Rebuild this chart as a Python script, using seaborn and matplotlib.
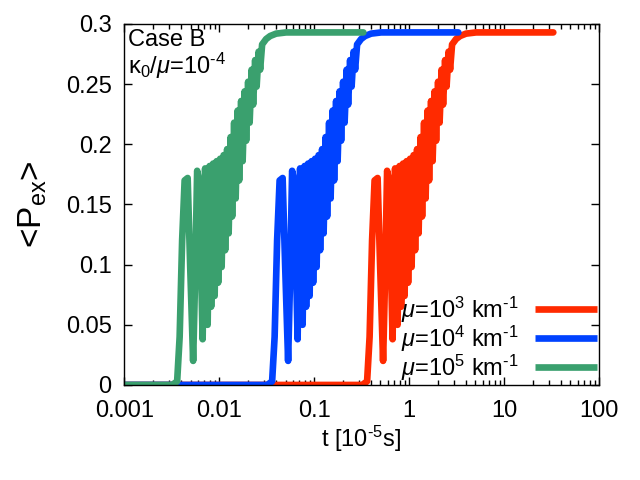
import numpy as np
import pandas as pd
import seaborn as sns
import matplotlib
matplotlib.use("Agg")
import matplotlib.pyplot as plt
from matplotlib.ticker import FixedLocator, LogLocator, FuncFormatter, NullFormatter

# Genel ayarlar
sns.set_theme(style="ticks", rc={"text.color": "black", "axes.labelcolor": "black",
                                 "xtick.color": "black", "ytick.color": "black",
                                 "axes.edgecolor": "black"})
plt.rcParams["font.family"] = ["Liberation Sans", "DejaVu Sans"]
plt.rcParams["mathtext.fontset"] = "custom"
plt.rcParams["mathtext.rm"] = "Liberation Sans"
plt.rcParams["mathtext.it"] = "Liberation Sans:italic"
plt.rcParams["mathtext.bf"] = "Liberation Sans:bold"

# veri: mu = 10^3 km^-1 egrisi (t birimi 10^-5 s)
t_base = [0.001, 0.3201, 0.3613, 0.3839, 0.4078, 0.4333, 0.4661, 0.4951, 0.5324,
          0.5590, 0.5869, 0.6161, 0.6702, 0.7121, 0.7567, 0.7943, 0.8236, 0.8647,
          0.8967, 0.9412, 0.9761, 1.0245, 1.0625, 1.1152, 1.1565, 1.2140, 1.2589,
          1.3215, 1.3704, 1.4384, 1.4918, 1.5659, 1.6238, 1.7045, 1.7675, 1.8553,
          1.9240, 2.0196, 2.0943, 2.1984, 2.2797, 2.3930, 2.4816, 2.6049, 2.7013,
          2.8355, 3.1240, 3.442, 3.981, 5.073, 33.0]
p_base = [0.0, 0.0, 0.003, 0.04, 0.12, 0.170, 0.172, 0.10, 0.02,
          0.09, 0.178, 0.17, 0.038, 0.18, 0.05, 0.182, 0.065, 0.184,
          0.074, 0.186, 0.085, 0.188, 0.098, 0.191, 0.112, 0.196, 0.126,
          0.206, 0.14, 0.218, 0.155, 0.228, 0.17, 0.236, 0.186, 0.244,
          0.203, 0.252, 0.218, 0.262, 0.233, 0.27, 0.248, 0.277, 0.262,
          0.283, 0.2875, 0.290, 0.292, 0.293, 0.293]

mu_values = [1e3, 1e4, 1e5]
labels = [r"$\mu$=10$^3$ km$^{\text{-}1}$", r"$\mu$=10$^4$ km$^{\text{-}1}$",
          r"$\mu$=10$^5$ km$^{\text{-}1}$"]
colors = ["#ff2a00", "#0042ff", "#3aa06e"]

# egriler t*mu ile olceklenir
rows = []
for mu, lab in zip(mu_values, labels):
    for t, p in zip(t_base, p_base):
        rows.append({"t": t * 1e3 / mu, "P": p, "case": lab})
df = pd.DataFrame(rows)

fig = plt.figure(figsize=(6.4, 4.8), dpi=100)
ax = fig.add_axes([0.194, 0.198, 0.742, 0.752])

sns.lineplot(data=df, x="t", y="P", hue="case", hue_order=labels,
             palette=colors, sort=False, estimator=None, lw=4.8, ax=ax,
             legend=False)

ax.set_xscale("log")
ax.set_xlim(0.001, 100)
ax.set_ylim(0, 0.3)

ax.xaxis.set_major_locator(FixedLocator([0.001, 0.01, 0.1, 1, 10, 100]))
ax.xaxis.set_major_formatter(FuncFormatter(lambda v, p: f"{v:g}"))
ax.xaxis.set_minor_locator(LogLocator(base=10, subs=np.arange(2, 10), numticks=20))
ax.xaxis.set_minor_formatter(NullFormatter())
ax.yaxis.set_major_locator(FixedLocator([0, 0.05, 0.1, 0.15, 0.2, 0.25, 0.3]))
ax.yaxis.set_major_formatter(FuncFormatter(lambda v, p: f"{v:g}"))

ax.tick_params(which="both", direction="in", top=True, right=True, labelsize=17)
ax.tick_params(which="major", length=6, width=1)
ax.tick_params(which="minor", length=3.5, width=1)
ax.tick_params(axis="x", pad=11)
ax.tick_params(axis="y", pad=9)
for s in ax.spines.values():
    s.set_linewidth(1)

ax.set_xlabel("t [10$^{\\text{-}5}$s]", fontsize=17, labelpad=1)
ax.set_ylabel("<P$_{\\rm ex}$>", fontsize=24, labelpad=12)

ax.text(0.008, 0.985, "Case B", transform=ax.transAxes, fontsize=17, va="top", ha="left")
ax.text(0.008, 0.925, "κ$_0$/$\\mu$=10$^{\\text{-}4}$", transform=ax.transAxes,
        fontsize=17, va="top", ha="left")

handles = [plt.Line2D([], [], color=c, lw=4.8, solid_capstyle="butt") for c in colors]
ax.legend(handles, labels, loc="lower right", frameon=False, fontsize=17,
          markerfirst=False, handlelength=2.6, handletextpad=0.7,
          labelspacing=-0.05, borderaxespad=0.0, borderpad=0.1)

fig.savefig("out.png", dpi=100)
